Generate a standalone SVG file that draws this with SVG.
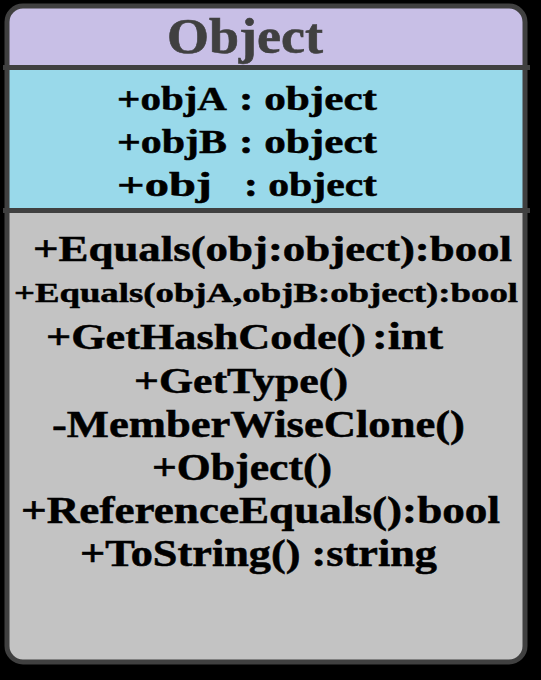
<svg xmlns="http://www.w3.org/2000/svg" width="541" height="680" viewBox="0 0 541 680">
<style>
.t{font-family:"Liberation Serif","Times New Roman",serif;font-weight:bold;fill:#000;stroke:#000;stroke-width:0.5;}
.title{font-family:"Liberation Serif","Times New Roman",serif;font-weight:bold;fill:#404040;stroke:#404040;stroke-width:0.6;}
.div{stroke:#404040;stroke-width:5;}
</style>
<defs>
<clipPath id="box"><rect x="7" y="6" width="518" height="656" rx="16" ry="16"/></clipPath>
</defs>
<rect width="541" height="680" fill="#000"/>
<g id="class-object">
<g clip-path="url(#box)">
<rect x="7" y="6" width="518" height="62" fill="#c8bfe6"/>
<rect x="7" y="68" width="518" height="143" fill="#99d9ea"/>
<rect x="7" y="211" width="518" height="451" fill="#c3c3c3"/>
</g>
<rect x="7" y="6" width="518" height="656" rx="16" ry="16" fill="none" stroke="#404040" stroke-width="5"/>
<line class="div" x1="3" y1="67.5" x2="530" y2="67.5"/>
<line class="div" x1="3" y1="210.5" x2="530" y2="210.5"/>
<text class="title" x="167" y="53" font-size="50" textLength="156" lengthAdjust="spacingAndGlyphs">Object</text>
<text class="t" font-size="34" y="110"><tspan x="117" textLength="110" lengthAdjust="spacingAndGlyphs">+objA</tspan><tspan x="239" textLength="138" lengthAdjust="spacingAndGlyphs">: object</tspan></text>
<text class="t" font-size="34" y="153"><tspan x="117" textLength="110" lengthAdjust="spacingAndGlyphs">+objB</tspan><tspan x="239" textLength="138" lengthAdjust="spacingAndGlyphs">: object</tspan></text>
<text class="t" font-size="34" y="196"><tspan x="117" textLength="95" lengthAdjust="spacingAndGlyphs">+obj</tspan><tspan x="244" textLength="133" lengthAdjust="spacingAndGlyphs">: object</tspan></text>
<text class="t" font-size="36" x="33" y="261" textLength="479" lengthAdjust="spacingAndGlyphs">+Equals(obj:object):bool</text>
<text class="t" font-size="28" x="14" y="302" textLength="504" lengthAdjust="spacingAndGlyphs">+Equals(objA,objB:object):bool</text>
<text class="t" font-size="36" y="349"><tspan x="46" textLength="320" lengthAdjust="spacingAndGlyphs">+GetHashCode()</tspan><tspan x="372" font-size="38" textLength="71" lengthAdjust="spacingAndGlyphs">:int</tspan></text>
<text class="t" font-size="35" x="134" y="393" textLength="214" lengthAdjust="spacingAndGlyphs">+GetType()</text>
<text class="t" font-size="37" x="52" y="437" textLength="413" lengthAdjust="spacingAndGlyphs">-MemberWiseClone()</text>
<text class="t" font-size="37" x="152" y="480" textLength="180" lengthAdjust="spacingAndGlyphs">+Object()</text>
<text class="t" font-size="37" x="21" y="523" textLength="479" lengthAdjust="spacingAndGlyphs">+ReferenceEquals():bool</text>
<text class="t" font-size="37" x="80" y="566" textLength="357" lengthAdjust="spacingAndGlyphs">+ToString() :string</text>
</g>
<g id="connectors"/>
</svg>
